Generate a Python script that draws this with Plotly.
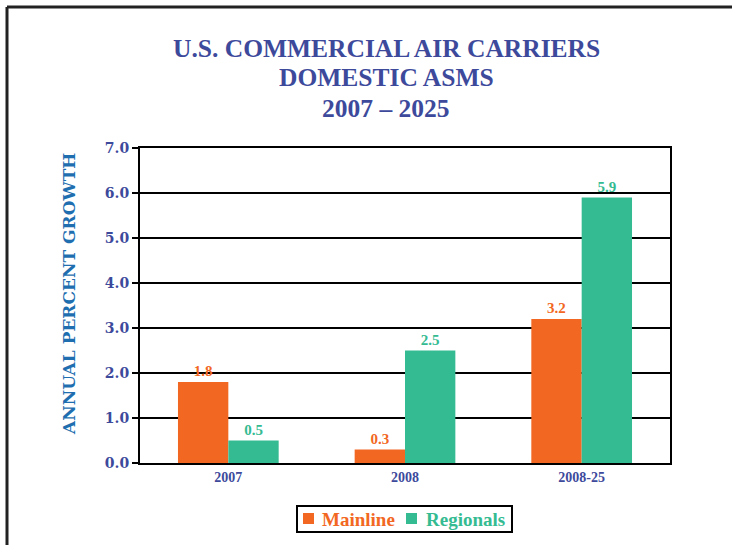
import plotly.graph_objects as go

categories = ["2007", "2008", "2008-25"]
mainline = [1.8, 0.3, 3.2]
regionals = [0.5, 2.5, 5.9]
y_ticks = [0.0, 1.0, 2.0, 3.0, 4.0, 5.0, 6.0, 7.0]
title_lines = ["U.S. COMMERCIAL AIR CARRIERS", "DOMESTIC ASMS", "2007 – 2025"]
y_title = "ANNUAL PERCENT GROWTH"
series_names = ["Mainline", "Regionals"]

ORANGE = "#f26722"
GREEN = "#35bb92"
NAVY = "#3d4a9c"
BLUE = "#1f6fb0"
FONT = "Liberation Serif"
WIDE = "DejaVu Serif"

# plot-area pixel geometry (for paper-coordinate conversion of decorations)
L, R, T, B = 140, 670, 148, 463
def px(x):
    return (x - L) / (R - L)
def py(y):
    return (B - y) / (B - T)

fig = go.Figure()
for name, vals, col in [(series_names[0], mainline, ORANGE), (series_names[1], regionals, GREEN)]:
    fig.add_bar(x=categories, y=vals, name=name, showlegend=False,
                marker=dict(color=col, line=dict(width=0)),
                text=[f"{v:.1f}" for v in vals], textposition="outside", cliponaxis=False,
                textfont=dict(color=col, size=15, family=FONT, weight="bold"))

fig.update_layout(
    width=732, height=545,
    margin=dict(l=L, r=732 - R, t=T, b=545 - B, autoexpand=False),
    paper_bgcolor="white", plot_bgcolor="white",
    barmode="group", bargap=0.43, bargroupgap=0,
    font=dict(family=FONT),
    xaxis=dict(range=[-0.5, 2.5], showline=True, linecolor="black", linewidth=2, mirror=True,
               ticks="", automargin=False,
               tickfont=dict(family=FONT, size=14, color=NAVY, weight="bold")),
    yaxis=dict(range=[0, 7], tickvals=y_ticks, ticktext=[f"{v:.1f}" for v in y_ticks],
               showgrid=True, gridcolor="black", gridwidth=2, automargin=False,
               showline=True, linecolor="black", linewidth=2, mirror=True,
               ticks="outside", ticklen=6, tickwidth=2, tickcolor="black",
               tickfont=dict(family=WIDE, size=14, color=NAVY, weight="bold"),
               zeroline=False),
)

for i, line in enumerate(title_lines):
    fig.add_annotation(text=f"<b>{line}</b>", xref="paper", yref="paper", x=px(386), y=py(48 + 30 * i),
                       xanchor="center", yanchor="middle", showarrow=False,
                       font=dict(family=FONT, size=25.5, color=NAVY))

# y-axis title
fig.add_annotation(text=f"<b>{y_title}</b>", xref="paper", yref="paper", x=px(69), y=py(294),
                   xanchor="center", yanchor="middle", textangle=-90, showarrow=False,
                   font=dict(family=WIDE, size=17, color=BLUE))

# legend (box, swatches, labels)
fig.add_shape(type="rect", xref="paper", yref="paper", x0=px(297), x1=px(512), y0=py(506), y1=py(532),
              line=dict(color="black", width=2), fillcolor="white")
for name, col, sx, tx in [(series_names[0], ORANGE, 303, 320), (series_names[1], GREEN, 406, 424)]:
    fig.add_shape(type="rect", xref="paper", yref="paper", x0=px(sx), x1=px(sx + 11), y0=py(513), y1=py(524),
                  line=dict(width=0), fillcolor=col)
    fig.add_annotation(text=f"<b>{name}</b>", xref="paper", yref="paper", x=px(tx), y=py(519.5),
                       xanchor="left", yanchor="middle", showarrow=False,
                       font=dict(family=FONT, size=19, color=col))

# page frame (top and left borders)
fig.add_shape(type="line", xref="paper", yref="paper", x0=px(7), x1=px(800), y0=py(7), y1=py(7),
              line=dict(color="#222", width=3))
fig.add_shape(type="line", xref="paper", yref="paper", x0=px(7), x1=px(7), y0=py(7), y1=py(600),
              line=dict(color="#222", width=3))

fig.write_html("out.html", config={"displayModeBar": False},
               post_script="document.body.style.margin='0';")
